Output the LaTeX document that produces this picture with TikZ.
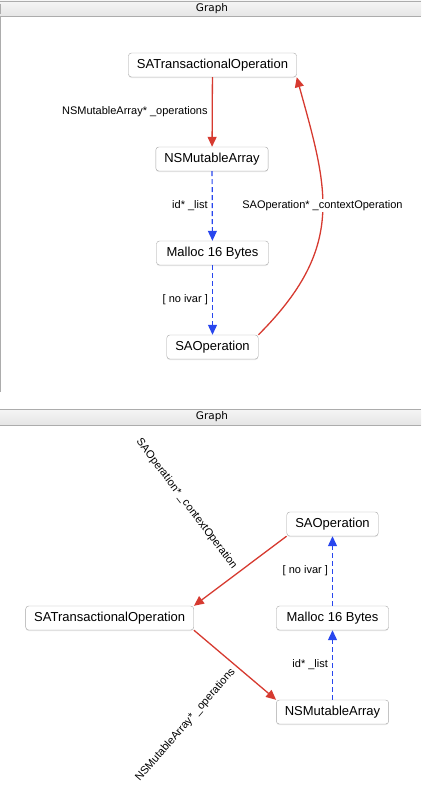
\documentclass[tikz,border=0pt]{standalone}
\usepackage{fontspec}
\setmainfont{Liberation Sans}
\newfontfamily\barfont{DejaVu Sans}
\usetikzlibrary{arrows.meta,shadows}
\definecolor{ivarred}{RGB}{214,58,48}
\definecolor{ivarblue}{RGB}{40,70,238}
\definecolor{barline}{RGB}{172,172,172}
\definecolor{boxline}{RGB}{168,168,168}
\begin{document}
\begin{tikzpicture}[x=1pt,y=-1pt]
      \tikzset{objbox/.style={draw=boxline, fill=white, rounded corners=3pt, inner xsep=8.5pt, minimum height=24pt,
          font=\fontsize{13}{15}\selectfont, drop shadow={shadow xshift=0pt, shadow yshift=-1pt, opacity=0.2}},
        strongref/.style={draw=ivarred, line width=1.3pt, -{Triangle[length=10pt,width=9pt]}},
        weakref/.style={draw=ivarblue, line width=1.2pt, dash pattern=on 5pt off 3pt, -{Triangle[length=10pt,width=9pt]}},
        ivarlabel/.style={font=\fontsize{11}{13}\selectfont, inner sep=4pt},
        bartitle/.style={font=\barfont\fontsize{10.5}{12}\selectfont}}
      \useasboundingbox (0,0) rectangle (421,800);
%% Panels
      	\shade[top color=white!96!black, bottom color=white!90!black] (0,1) rectangle (421,16);
      	\draw[barline] (0,1) -- (421,1) (0,16) -- (421,16) (0.5,4) -- (0.5,14);
      	\draw[barline] (0.5,16) -- (0.5,392);
      	\node[bartitle] (title1) at (212,8.5) {Graph};
      	\shade[top color=white!96!black, bottom color=white!90!black] (0,409) rectangle (421,425);
      	\draw[barline] (0,409) -- (421,409) (0,425) -- (421,425);
      	\node[bartitle] (title2) at (212,417) {Graph};
%% Vertices (upper graph)
      	\node[objbox] (tto) at (212.5,65) {SATransactionalOperation};
      	\node[objbox] (tna) at (212,159) {NSMutableArray};
    	\node[objbox, minimum width=112pt] (tma) at (212.5,253) {Malloc 16 Bytes};
  	    \node[objbox] (tso) at (212.5,347) {SAOperation};
%% Vertices (lower graph)
      	\node[objbox] (bso) at (332.5,524) {SAOperation};
    	\node[objbox, minimum width=112pt] (bma) at (332.5,618) {Malloc 16 Bytes};
      	\node[objbox] (bna) at (332.5,712) {NSMutableArray};
      	\node[objbox] (bto) at (109.7,618) {SATransactionalOperation};
%Edges (upper graph)
		\path[strongref] (tto) -- node[midway, left, ivarlabel] {NSMutableArray* \_operations} (tna);
		\path[weakref] (tna) -- node[midway, left, ivarlabel] {id* \_list} (tma);
		\path[weakref] (tma) -- node[midway, left, ivarlabel] {[ no ivar ]} (tso);
		\path[strongref] (tso.north east) .. controls +(88,-88) and +(31,112) .. node[pos=0.54, fill=white, ivarlabel, inner sep=1pt] {SAOperation* \_contextOperation} (tto.south east);
%Edges (lower graph)
		\path[weakref] (bna) -- node[midway, left, ivarlabel] {id* \_list} (bma);
		\path[weakref] (bma) -- node[midway, left, ivarlabel] {[ no ivar ]} (bso);
		\path[strongref] (bso.south west) -- (bto.north east);
		\path[strongref] (bto.south east) -- (bna.north west);
		\node[ivarlabel, rotate=-53] (ctxlabel) at (186.5,504) {SAOperation* \_contextOperation};
		\node[ivarlabel, rotate=49] (opslabel) at (185.5,725) {NSMutableArray* \_operations};
	\end{tikzpicture}
\end{document}
